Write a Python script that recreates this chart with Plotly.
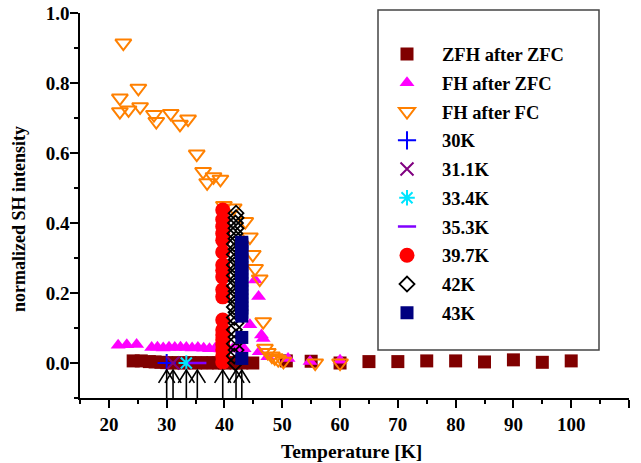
import plotly.graph_objects as go

# ---------------- data ----------------
zfh_T = [24.2, 25.6, 27.0, 28.0, 29.0, 30.0, 31.0, 32.0, 33.0, 34.0, 35.0, 36.0, 37.0,
         38.0, 39.0, 40.0, 41.0, 42.0, 43.0, 44.9, 50.7, 55.0, 60.0, 65.0, 70.0, 75.0,
         80.0, 85.0, 90.0, 95.0, 100.0]
zfh_I = [0.006, 0.006, 0.004, 0.003, 0.002, 0.001, 0.0, 0.001, 0.0, 0.001, 0.0, 0.001, 0.0,
         0.001, 0.0, 0.0, 0.001, 0.0, 0.0, 0.0, 0.006, 0.005, 0.0, 0.004, 0.004, 0.006,
         0.006, 0.003, 0.009, 0.002, 0.006]

fhzfc_T = [21.6, 23.1, 24.8, 27.4, 28.4, 29.4, 30.4, 31.4, 32.4, 33.4, 34.4, 35.4, 36.4,
           37.4, 38.4, 39.4, 40.4, 41.4, 42.4, 43.4, 44.4, 45.3, 45.9, 46.4, 46.7, 46.0,
           47.5, 51.0, 54.8, 60.0]
fhzfc_I = [0.051, 0.052, 0.053, 0.044, 0.045, 0.043, 0.045, 0.044, 0.045, 0.044, 0.043,
           0.044, 0.042, 0.041, 0.042, 0.040, 0.041, 0.040, 0.042, 0.041, 0.109, 0.237,
           0.19, 0.08, 0.07, 0.032, 0.018, 0.013, 0.004, 0.008]

fhfc_T = [22.5, 21.9, 25.1, 21.9, 23.4, 25.4, 27.8, 28.2, 30.7, 32.3, 33.7, 35.2, 36.3,
          37.0, 38.1, 39.3, 39.9, 41.6, 43.6, 44.4, 44.9, 45.3, 46.1, 46.7, 47.0, 47.5,
          48.2, 48.7, 49.3, 50.2, 55.7, 60.0]
fhfc_I = [0.914, 0.757, 0.785, 0.718, 0.723, 0.732, 0.71, 0.69, 0.713, 0.682, 0.697,
          0.597, 0.547, 0.515, 0.532, 0.525, 0.45, 0.443, 0.404, 0.36, 0.31, 0.27, 0.24,
          0.118, 0.042, 0.03, 0.02, 0.015, 0.01, 0.005, 0.0, 0.0]

t30_T, t30_I = [30.0], [0.0]
t311_T, t311_I = [31.1], [0.0]
t334_T, t334_I = [33.4], [0.0]
t353_T, t353_I = [35.3], [0.0]

t397_T = [39.7] * 19
t397_I = [0.003, 0.02, 0.037, 0.052, 0.066, 0.08, 0.094, 0.123, 0.189, 0.209, 0.246,
          0.265, 0.28, 0.317, 0.351, 0.37, 0.39, 0.41, 0.437]

t42_T = [41.9, 41.7, 42.0, 41.7, 42.0, 41.7, 42.0, 41.7, 42.0, 41.7, 42.0, 41.7, 42.0,
         41.7, 42.0, 41.7, 42.0, 41.7, 42.0, 41.7, 42.0, 41.7, 42.0, 41.8, 42.0, 41.9,
         42.0, 42.0]
t42_I = [0.0, 0.02, 0.037, 0.055, 0.074, 0.095, 0.114, 0.13, 0.145, 0.16, 0.175, 0.19,
         0.205, 0.22, 0.235, 0.25, 0.265, 0.28, 0.295, 0.31, 0.325, 0.34, 0.355, 0.37,
         0.385, 0.40, 0.415, 0.428]

t43_T = [43.0] * 22
t43_I = [0.013, 0.073, 0.134, 0.145, 0.157, 0.168, 0.18, 0.191, 0.203, 0.214, 0.226,
         0.237, 0.249, 0.26, 0.272, 0.283, 0.295, 0.306, 0.318, 0.329, 0.34, 0.345]

arrow_T = [30.0, 31.1, 33.4, 35.3, 39.7, 42.0, 43.0]

x_ticks = [20, 30, 40, 50, 60, 70, 80, 90, 100, 110]
y_ticks = [0.0, 0.2, 0.4, 0.6, 0.8, 1.0]

# ---------------- figure ----------------
FONT = "Liberation Serif"
fig = go.Figure()

def add(name, xs, ys, symbol, color, size, lw=0, lcolor=None):
    fig.add_trace(go.Scatter(
        x=xs, y=ys, mode="markers", name=name, legendgroup=name,
        marker=dict(symbol=symbol, color=color, size=size,
                    line=dict(width=lw, color=lcolor if lcolor else color)),
        cliponaxis=False))

add("ZFH after ZFC", zfh_T, zfh_I, "square", "#800000", 13)
add("FH after ZFC", fhzfc_T, fhzfc_I, "triangle-up", "#FF00FF", 13)
add("FH after FC", fhfc_T, fhfc_I, "triangle-down-open", "#FF8000", 14, 2)
add("30K", t30_T, t30_I, "cross-thin-open", "#0000FF", 13, 2)
add("31.1K", t311_T, t311_I, "x-thin-open", "#800080", 13, 2)
add("33.4K", t334_T, t334_I, "asterisk-open", "#00E5FF", 13, 2)
add("35.3K", t353_T, t353_I, "line-ew-open", "#8000FF", 13, 2.5)
add("39.7K", t397_T, t397_I, "circle", "#FF0000", 15)
add("42K", t42_T, t42_I, "diamond-open", "#000000", 11.5, 1.8)
add("43K", t43_T, t43_I, "square", "#000080", 13)

# arrows (shaft + open V head), built from the arrow temperatures
ax, ay = [], []
for t in arrow_T:
    ax += [t, t, None, t - 1.4, t, t + 1.4, None]
    ay += [-0.1, -0.02, None, -0.057, -0.02, -0.057, None]
fig.add_trace(go.Scatter(x=ax, y=ay, mode="lines", showlegend=False, hoverinfo="skip",
                         line=dict(color="black", width=1.6), cliponaxis=False))

L, R, T, B = 80, 12, 13, 65
W, H = 641, 463
pw, ph = W - L - R, H - T - B

def px2paper_x(px):
    return (px - L) / pw

def px2paper_y(py):
    return (H - B - py) / ph

fig.add_shape(type="rect", xref="paper", yref="paper",
              x0=px2paper_x(378), x1=px2paper_x(599),
              y0=px2paper_y(350), y1=px2paper_y(10),
              line=dict(color="#444444", width=1.5), fillcolor="white", layer="below")

fig.add_annotation(text="Temperature [K]", xref="paper", yref="paper",
                   x=px2paper_x(351), y=px2paper_y(451), xanchor="center", yanchor="middle",
                   showarrow=False,
                   font=dict(family=FONT, size=19.5, color="black", weight="bold"))
fig.add_annotation(text="normalized SH intensity", xref="paper", yref="paper",
                   x=px2paper_x(19), y=px2paper_y(219), xanchor="center", yanchor="middle",
                   textangle=-90, showarrow=False,
                   font=dict(family=FONT, size=18, color="black", weight="bold"))

tickfont = dict(family=FONT, size=19, color="black", weight="bold")
fig.update_layout(
    width=W, height=H,
    margin=dict(l=L, r=R, t=T, b=B, autoexpand=False),
    paper_bgcolor="white", plot_bgcolor="white",
    font=dict(family=FONT, color="black"),
    showlegend=True,
    legend=dict(x=px2paper_x(372), y=px2paper_y(35.5), xanchor="left", yanchor="top",
                bgcolor="rgba(0,0,0,0)", borderwidth=0, itemwidth=60,
                traceorder="grouped", tracegroupgap=1.7,
                font=dict(family=FONT, size=18.5, color="black", weight="bold")),
    xaxis=dict(range=[15, 110], tickvals=x_ticks, ticktext=[str(v) for v in x_ticks],
               showgrid=False, zeroline=False, showline=True, linecolor="black",
               linewidth=1.5, ticks="outside", ticklen=8, tickwidth=1.5,
               tickcolor="black", tickfont=tickfont, automargin=False,
               minor=dict(ticks="outside", ticklen=4, tickwidth=1.5, dtick=5,
                          tick0=15, tickcolor="black", showgrid=False)),
    yaxis=dict(range=[-0.1, 1.0], tickvals=y_ticks, ticktext=[f"{v:.1f}" for v in y_ticks],
               showgrid=False, zeroline=False, showline=True, linecolor="black",
               linewidth=1.5, ticks="outside", ticklen=8, tickwidth=1.5,
               tickcolor="black", tickfont=tickfont, automargin=False,
               ticklabelstandoff=-3,
               minor=dict(ticks="outside", ticklen=4, tickwidth=1.5, dtick=0.1,
                          tick0=0, tickcolor="black", showgrid=False)),
)

fig.write_html("out.html")
